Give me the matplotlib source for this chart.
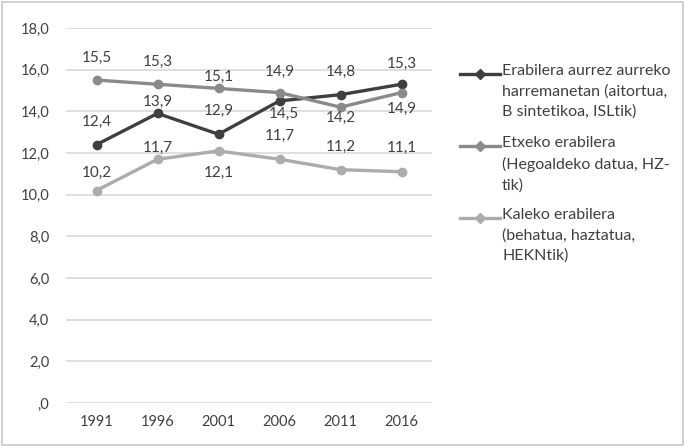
import matplotlib
matplotlib.use("Agg")
import matplotlib.pyplot as plt
from matplotlib.lines import Line2D
from matplotlib.patches import Rectangle

plt.rcParams['font.family'] = ['Lato', 'DejaVu Sans']

years = ["1991", "1996", "2001", "2006", "2011", "2016"]
aurrez_aurre = [12.4, 13.9, 12.9, 14.5, 14.8, 15.3]
etxeko = [15.5, 15.3, 15.1, 14.9, 14.2, 14.9]
kaleko = [10.2, 11.7, 12.1, 11.7, 11.2, 11.1]
yticks = [0, 2, 4, 6, 8, 10, 12, 14, 16, 18]
ytick_labels = [",0", "2,0", "4,0", "6,0", "8,0", "10,0", "12,0", "14,0", "16,0", "18,0"]

legend_labels = [
    "Erabilera aurrez aurreko\nharremanetan (aitortua,\nB sintetikoa, ISLtik)",
    "Etxeko erabilera\n(Hegoaldeko datua, HZ-\ntik)",
    "Kaleko erabilera\n(behatua, haztatua,\nHEKNtik)",
]

# label offsets (points) for each value annotation
aurrez_off = [(0, 16.5), (0, 8), (0, 17), (3, -9), (0, 16.5), (0, 14.5)]
etxeko_off = [(0, 16), (0, 16), (0, 8), (0, 15), (0, -7.5), (0, -11.5)]
kaleko_off = [(0, 12.5), (0, 8), (0, -16), (0, 16.5), (0, 16.5), (0, 17)]

dark = "#3f3f3f"
mid = "#8a8a8a"
light = "#acacac"
text_c = "#404040"

fig = plt.figure(figsize=(6.84, 4.46), dpi=100)
ax = fig.add_axes([66 / 684, 1 - 403 / 446, 366 / 684, 375 / 446])

x = list(range(len(years)))
series = [
    (aurrez_aurre, dark, aurrez_off),
    (etxeko, mid, etxeko_off),
    (kaleko, light, kaleko_off),
]
for vals, col, offs in series:
    ax.plot(x, vals, color=col, lw=2.4, marker="o", ms=6, zorder=3)
    for xi, v, off in zip(x, vals, offs):
        ax.annotate(f"{v:.1f}".replace(".", ","), (xi, v), xytext=off,
                    textcoords="offset points", ha="center", va="center",
                    fontsize=11, color=text_c, zorder=4)

ax.set_xlim(-0.5, 5.5)
ax.set_ylim(0, 18)
ax.set_yticks(yticks)
ax.set_yticklabels(ytick_labels)
ax.set_xticks(x)
ax.set_xticklabels(years)
ax.tick_params(axis="both", length=0, labelsize=10.5, colors=text_c)
ax.tick_params(axis="y", pad=12)
ax.tick_params(axis="x", pad=9)
ax.grid(axis="y", color="#d9d9d9", lw=1.2)
ax.set_axisbelow(True)
for s in ax.spines.values():
    s.set_visible(False)

# legend drawn by hand so the marker sits on the first text line
leg_cols = [dark, mid, light]
leg_y = [74, 146, 218]
for col, lab, yy in zip(leg_cols, legend_labels, leg_y):
    yf = 1 - yy / 446
    fig.add_artist(Line2D([460 / 684, 500 / 684], [yf, yf], color=col, lw=2.4,
                          transform=fig.transFigure))
    fig.add_artist(Line2D([480 / 684], [yf], color=col, marker="D", ms=5,
                          transform=fig.transFigure))
    fig.text(502 / 684, yf + 10 / 446, lab, ha="left", va="top", fontsize=11.5,
             color=text_c, linespacing=1.55)

fig.add_artist(Rectangle((1.5 / 684, 1.5 / 446), 681 / 684, 443 / 446,
                         transform=fig.transFigure, fill=False,
                         edgecolor="#c8c8c8", lw=1.2))

fig.savefig("out.png", dpi=100)
